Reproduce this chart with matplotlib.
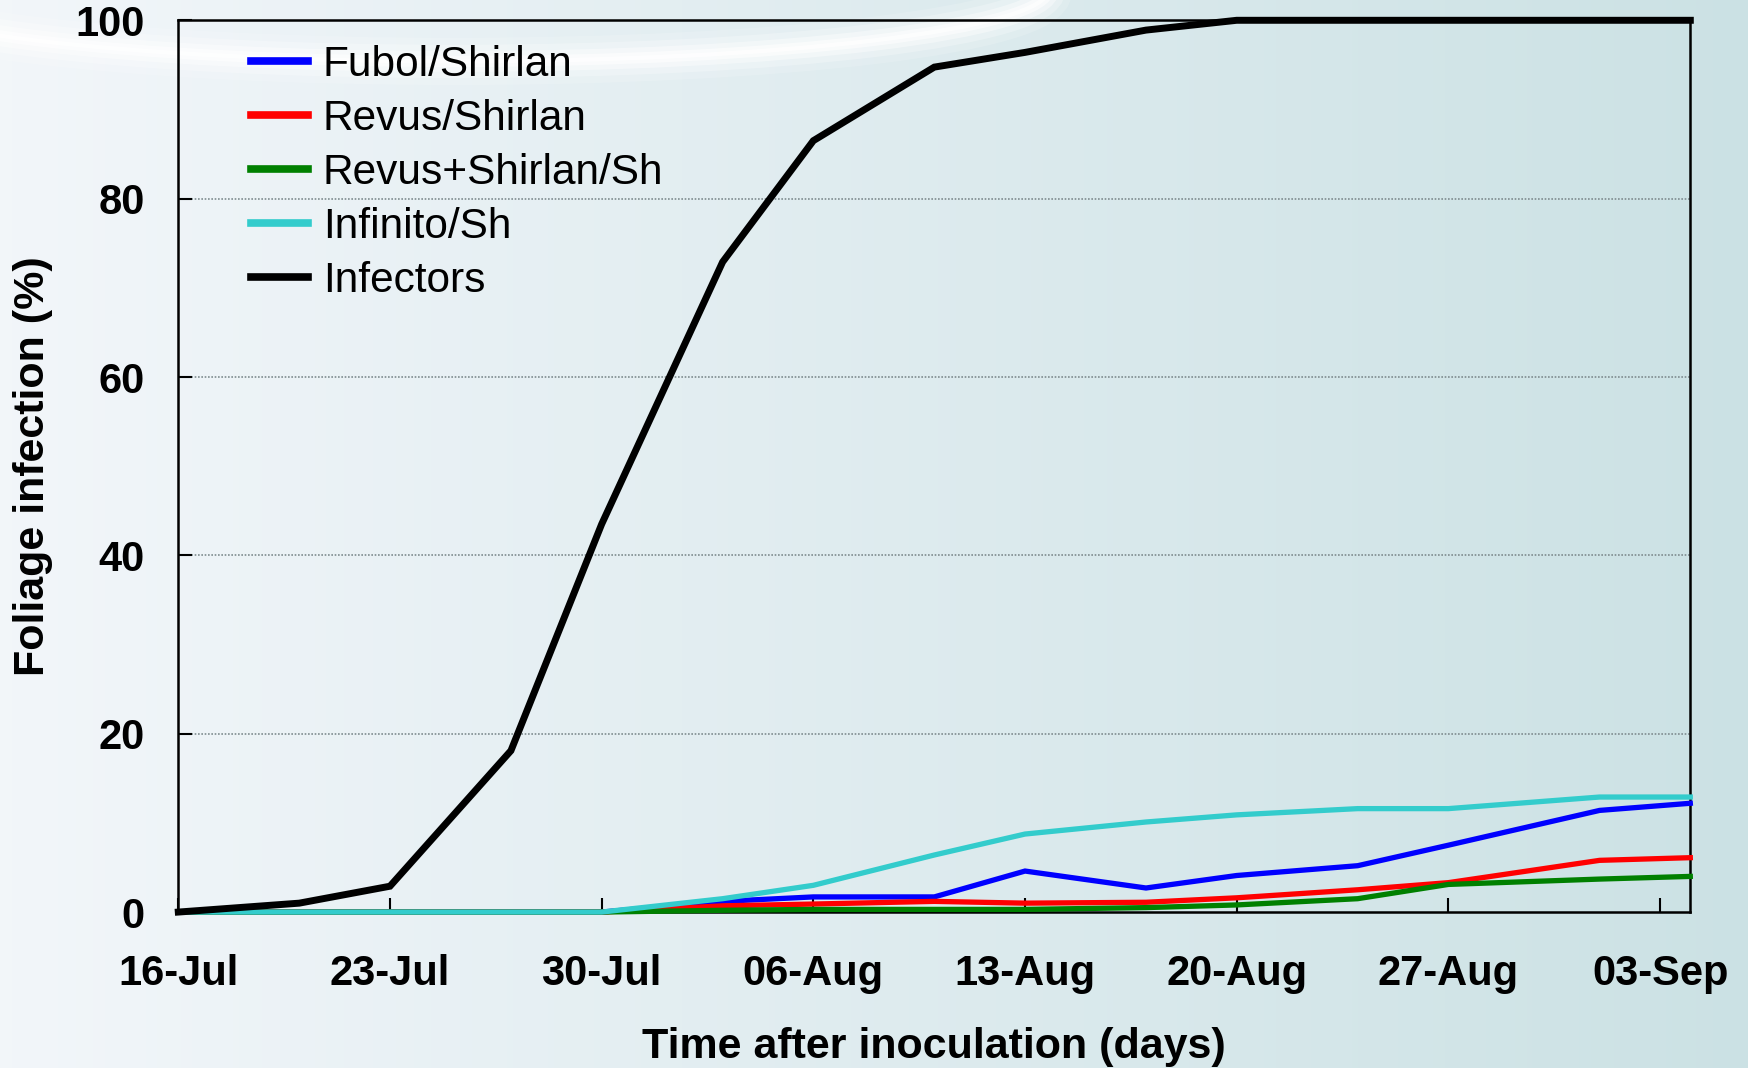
import numpy as np
import matplotlib
matplotlib.use("Agg")
import matplotlib.pyplot as plt
import matplotlib.dates as mdates
from matplotlib.patches import Ellipse
import datetime as dt

# ---- data ----
dates = ["2012-07-16", "2012-07-20", "2012-07-23", "2012-07-27", "2012-07-30",
         "2012-08-03", "2012-08-06", "2012-08-10", "2012-08-13", "2012-08-17",
         "2012-08-20", "2012-08-24", "2012-08-27", "2012-09-01", "2012-09-04"]
fubol = [0, 0, 0, 0, 0, 1.2, 1.7, 1.7, 4.6, 2.7, 4.1, 5.2, 7.5, 11.4, 12.2]
revus = [0, 0, 0, 0, 0, 0.7, 0.9, 1.2, 1.0, 1.1, 1.6, 2.5, 3.3, 5.8, 6.1]
revus_sh = [0, 0, 0, 0, 0, 0.2, 0.3, 0.3, 0.3, 0.5, 0.8, 1.5, 3.1, 3.7, 4.0]
infinito = [0, 0, 0, 0, 0, 1.5, 3.0, 6.4, 8.75, 10.1, 10.9, 11.6, 11.6, 12.9, 12.9]
infectors = [0, 1.0, 2.9, 18.1, 43.5, 72.9, 86.5, 94.75, 96.4, 98.9, 100, 100, 100, 100, 100]
series_names = ["Fubol/Shirlan", "Revus/Shirlan", "Revus+Shirlan/Sh", "Infinito/Sh", "Infectors"]
series_colors = ["#0000ff", "#ff0000", "#008000", "#33cccc", "#000000"]
tick_dates = ["2012-07-16", "2012-07-23", "2012-07-30", "2012-08-06", "2012-08-13",
              "2012-08-20", "2012-08-27", "2012-09-03"]
y_ticks = [0, 20, 40, 60, 80, 100]

x = [dt.datetime.strptime(d, "%Y-%m-%d") for d in dates]
xt = [dt.datetime.strptime(d, "%Y-%m-%d") for d in tick_dates]

plt.rcParams['font.family'] = ['Liberation Sans', 'DejaVu Sans']

fig = plt.figure(figsize=(17.48, 10.68), dpi=100)

# background gradient
bg = fig.add_axes([0, 0, 1, 1], zorder=0)
bg.set_axis_off()
gx = np.linspace(0, 1, 300)
gy = np.linspace(0, 1, 200)
GX, GY = np.meshgrid(gx, gy)
left_c = np.array([0.95, 0.965, 0.98])
right_c = np.array([0.78, 0.875, 0.885])
t = np.clip(GX * 0.9, 0, 1)[..., None]
img = left_c * (1 - t) + right_c * t
bg.imshow(img, extent=[0, 1, 0, 1], aspect='auto', origin='upper')
for w, a in [(34, 0.15), (24, 0.25), (15, 0.4), (8, 0.55), (3, 0.7)]:
    bg.add_patch(Ellipse((0.26, 1.01), 0.68, 0.135, fill=False, edgecolor='white',
                         linewidth=w, alpha=a))
bg.set_xlim(0, 1)
bg.set_ylim(0, 1)

ax = fig.add_axes([0.102, 0.146, 0.865, 0.835], zorder=1)
ax.patch.set_alpha(0)

allv = [fubol, revus, revus_sh, infinito, infectors]
for vals, name, col in zip(allv, series_names, series_colors):
    lw = 5.0 if name == "Infectors" else 3.8
    ax.plot(x, vals, color=col, lw=lw, label=name, solid_joinstyle='miter',
            clip_on=False, zorder=3)

ax.set_xlim(dt.datetime(2012, 7, 16), dt.datetime(2012, 9, 4))
ax.set_ylim(0, 100)
ax.set_xticks(xt)
ax.xaxis.set_major_formatter(mdates.DateFormatter("%d-%b"))
ax.set_yticks(y_ticks)
ax.tick_params(axis='both', direction='in', length=10, width=1.5, color='black',
               labelsize=30)
ax.tick_params(axis='x', pad=30)
ax.tick_params(axis='y', pad=24)
for lab in ax.get_xticklabels() + ax.get_yticklabels():
    lab.set_fontweight('bold')
for y in y_ticks[1:-1]:
    ax.axhline(y, color='#7f8c8f', lw=1.2, ls=(0, (1, 1)), zorder=1)
for s in ax.spines.values():
    s.set_linewidth(1.8)
    s.set_color('black')

ax.set_xlabel("Time after inoculation (days)", fontsize=31, fontweight='bold', labelpad=24)
ax.set_ylabel("Foliage infection (%)", fontsize=31, fontweight='bold', labelpad=16)

leg = ax.legend(loc='upper left', bbox_to_anchor=(0.034, 0.996), frameon=False,
                fontsize=30.5, handlelength=1.35, handletextpad=0.35, labelspacing=0.33,
                borderpad=0)
for h in leg.get_lines():
    h.set_linewidth(5.5)

fig.savefig("out.png", dpi=100)
